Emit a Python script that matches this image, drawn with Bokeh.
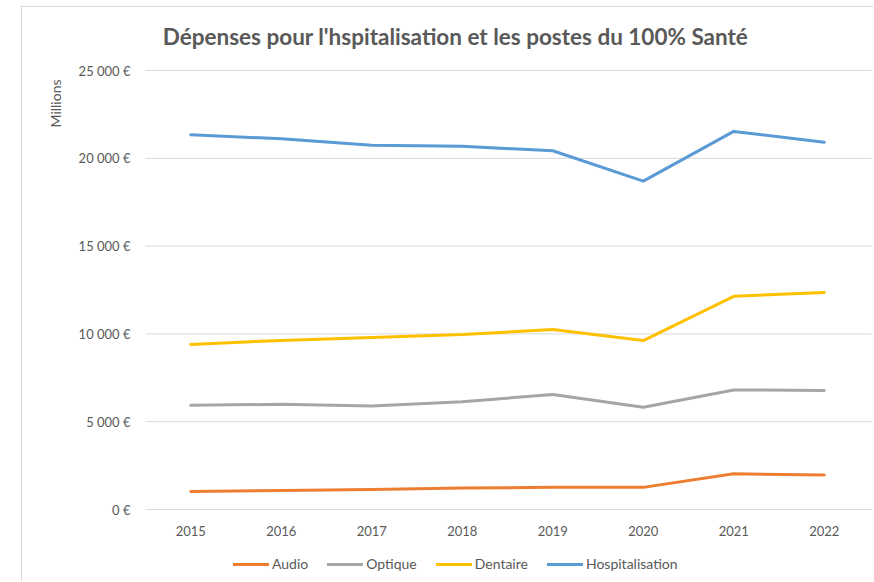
from bokeh.plotting import figure
from bokeh.models import Range1d, Legend, LegendItem, Label, ColumnDataSource
from bokeh.embed import file_html
from bokeh.resources import INLINE
from bokeh.core.properties import value
import math

years = [2015, 2016, 2017, 2018, 2019, 2020, 2021, 2022]
audio = [1030, 1080, 1140, 1220, 1260, 1260, 2030, 1970]
optique = [5930, 5990, 5900, 6140, 6550, 5820, 6810, 6780]
dentaire = [9400, 9630, 9790, 9960, 10250, 9620, 12140, 12360]
hospitalisation = [21340, 21110, 20740, 20680, 20430, 18700, 21530, 20910]

series_names = ["Audio", "Optique", "Dentaire", "Hospitalisation"]
series_values = [audio, optique, dentaire, hospitalisation]
series_colors = ["#ED7D31", "#A5A5A5", "#FFC000", "#5B9BD5"]

y_ticks = [0, 5000, 10000, 15000, 20000, 25000]
y_tick_labels = ["0 €", "5 000 €", "10 000 €", "15 000 €", "20 000 €", "25 000 €"]
x_tick_labels = [str(y) for y in years]

title_text = "Dépenses pour l'hspitalisation et les postes du 100% Santé"
unit_text = "Millions"

FONT = "Lato"
GRAY = "#595959"
GRID = "#D9D9D9"

# layout geometry in canvas pixels (canvas = whole drawing area)
W, H = 852, 575
PLOT_L, PLOT_R = 123, 847      # x extent of the category band
PLOT_T, PLOT_B = 63, 502       # y of top tick and zero line
x_lo, x_hi = years[0] - 0.5, years[-1] + 0.5
xk = (x_hi - x_lo) / (PLOT_R - PLOT_L)
y_lo, y_hi = y_ticks[0], y_ticks[-1]
yk = (y_hi - y_lo) / (PLOT_B - PLOT_T)

p = figure(
    width=W, height=H, min_border=0,
    x_range=Range1d(x_lo - PLOT_L * xk, x_hi + (W - PLOT_R) * xk),
    y_range=Range1d(y_lo - (H - PLOT_B) * yk, y_hi + PLOT_T * yk),
    output_backend="svg", toolbar_location=None,
    background_fill_color="white", border_fill_color="white",
)
p.styles = {"border-left": f"1px solid {GRID}", "border-top": f"1px solid {GRID}",
            "margin-left": "21px", "margin-top": "6px"}
p.outline_line_color = None
p.xaxis.visible = False
p.yaxis.visible = False
p.grid.visible = False

# horizontal gridlines (the zero one doubles as the category axis line)
p.segment(x0=[x_lo] * len(y_ticks), x1=[x_hi + 2 * xk] * len(y_ticks),
          y0=y_ticks, y1=y_ticks, line_color=GRID, line_width=1)

# y tick labels
src_y = ColumnDataSource(dict(x=[x_lo] * len(y_ticks), y=y_ticks, t=y_tick_labels))
p.text(x="x", y="y", text="t", source=src_y, x_offset=-15,
       text_font=value(FONT), text_font_size="13px", text_color=GRAY,
       text_align="right", text_baseline="middle")

# year labels under the zero line
src_x = ColumnDataSource(dict(x=years, y=[y_lo] * len(years), t=x_tick_labels))
p.text(x="x", y="y", text="t", source=src_x, y_offset=21,
       text_font=value(FONT), text_font_size="13px", text_color=GRAY,
       text_align="center", text_baseline="middle")

items = []
for name, vals, col in zip(series_names, series_values, series_colors):
    r = p.line(years, vals, line_color=col, line_width=3, line_cap="round", line_join="round")
    items.append(LegendItem(label=name, renderers=[r]))

legend = Legend(items=items, orientation="horizontal", location=(211, 10),
                glyph_width=36, glyph_height=16, label_height=16, label_standoff=3,
                spacing=19, padding=0, margin=0, border_line_color=None,
                background_fill_alpha=0,
                label_text_font=FONT, label_text_font_size="14px", label_text_color=GRAY)
p.add_layout(legend, "center")

p.add_layout(Label(x=433, y=H - 29, x_units="screen", y_units="screen", text=title_text,
                   text_font=FONT, text_font_style="bold", text_font_size="22.5px",
                   text_color=GRAY, text_align="center", text_baseline="middle"))
p.add_layout(Label(x=33, y=H - 96, x_units="screen", y_units="screen", text=unit_text,
                   angle=math.pi / 2, text_font=FONT, text_font_size="14px",
                   text_color=GRAY, text_align="center", text_baseline="middle"))

open("out.html", "w").write(file_html(p, INLINE))
